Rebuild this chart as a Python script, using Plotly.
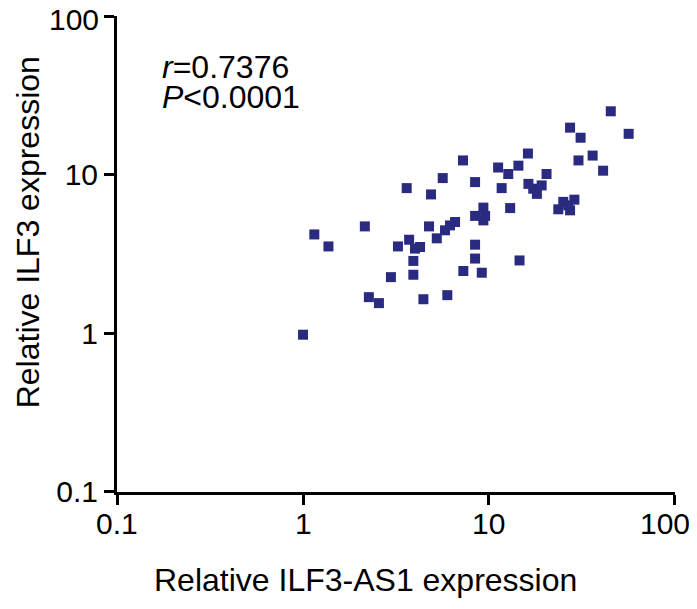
import math
import plotly.graph_objects as go

# Relative ILF3-AS1 expression (x) and Relative ILF3 expression (y)
ilf3_as1 = [1.0, 1.15, 1.37, 2.15, 2.26, 2.56, 2.97, 3.24, 3.61, 3.72,
            3.92, 3.92, 4.0, 4.26, 4.44, 4.76, 4.88, 5.24, 5.64, 5.8,
            5.97, 6.17, 6.57, 7.25, 7.28, 8.42, 8.42, 8.42, 8.42, 9.15,
            9.33, 9.53, 9.33, 11.2, 11.7, 12.7, 14.4, 13.0, 14.6, 16.2,
            16.3, 17.3, 18.1, 19.2, 20.4, 23.6, 25.1, 26.7, 27.3, 28.8,
            27.3, 30.3, 31.1, 36.1, 41.1, 45.2, 56.4]
ilf3 = [0.98, 4.2, 3.53, 4.72, 1.69, 1.55, 2.26, 3.53, 8.23, 3.89,
        2.86, 2.34, 3.42, 3.5, 1.64, 4.72, 7.51, 3.97, 9.52, 4.46,
        1.74, 4.79, 5.03, 12.3, 2.47, 8.98, 5.5, 3.62, 2.96, 2.41,
        6.2, 5.5, 5.15, 11.1, 8.23, 10.1, 11.4, 6.16, 2.88, 13.6,
        8.75, 8.16, 7.57, 8.56, 10.1, 6.05, 6.74, 6.41, 5.96, 6.96,
        19.8, 12.3, 17.1, 13.2, 10.6, 25.1, 18.1]

tick_vals = [0.1, 1, 10, 100]
tick_text = ["0.1", "1", "10", "100"]

FONT = "Liberation Sans, Arial, sans-serif"

fig = go.Figure()
fig.add_trace(go.Scatter(
    x=ilf3_as1, y=ilf3, mode="markers",
    marker=dict(symbol="square", size=10, color="#2a2b80", line=dict(width=0)),
    showlegend=False,
))

axis_common = dict(
    type="log", showline=True, linewidth=3, linecolor="black",
    ticks="outside", ticklen=10, tickwidth=3, tickcolor="black",
    tickvals=tick_vals,
    tickfont=dict(family=FONT, size=30, color="black"),
    ticklabeloverflow="allow", automargin=False,
    showgrid=False, zeroline=False, mirror=False,
)

annotations = [
    dict(text="<i>r</i>=0.7376", xref="paper", yref="paper",
         x=0.0766, y=0.893, xanchor="left", yanchor="middle", showarrow=False,
         font=dict(family=FONT, size=32, color="black")),
    dict(text="<i>P</i>&lt;0.0001", xref="paper", yref="paper",
         x=0.0766, y=0.8298, xanchor="left", yanchor="middle", showarrow=False,
         font=dict(family=FONT, size=32, color="black")),
    dict(text="Relative ILF3-AS1 expression", xref="paper", yref="paper",
         x=0.446, y=-0.1855, xanchor="center", yanchor="middle", showarrow=False,
         font=dict(family=FONT, size=32, color="black")),
    dict(text="Relative ILF3 expression", xref="paper", yref="paper",
         x=-0.1953, y=0.5456, xanchor="left", yanchor="middle", showarrow=False,
         textangle=-90,
         font=dict(family=FONT, size=32, color="black")),
]
# x tick labels placed on the x axis scale (log axis -> log10 positions)
for v, t in zip(tick_vals, tick_text):
    annotations.append(dict(
        text=t, xref="x", yref="paper", x=math.log10(v), y=-0.0672,
        xanchor="center", yanchor="middle", showarrow=False,
        xshift=-10 if v == 100 else 0,
        font=dict(family=FONT, size=30, color="black")))
# top y tick label, nudged down slightly so it is not clipped at the page top
annotations.append(dict(
    text=tick_text[-1], xref="paper", yref="y", x=-0.0287, y=math.log10(tick_vals[-1]),
    xanchor="right", yanchor="middle", showarrow=False, yshift=-3,
    font=dict(family=FONT, size=30, color="black")))

# page body has an 8px margin on every side, so the figure is sized/offset to fit the window
fig.update_layout(
    width=681, height=593,
    margin=dict(l=109, r=14, t=8, b=109),
    paper_bgcolor="white", plot_bgcolor="white",
    xaxis=dict(range=[-1.0005, 2.0005], showticklabels=False,
               ticktext=tick_text, **axis_common),
    yaxis=dict(range=[-1.0005, 2.0005], ticktext=tick_text[:-1] + [""], **axis_common),
    annotations=annotations,
)

fig.write_html("out.html")
